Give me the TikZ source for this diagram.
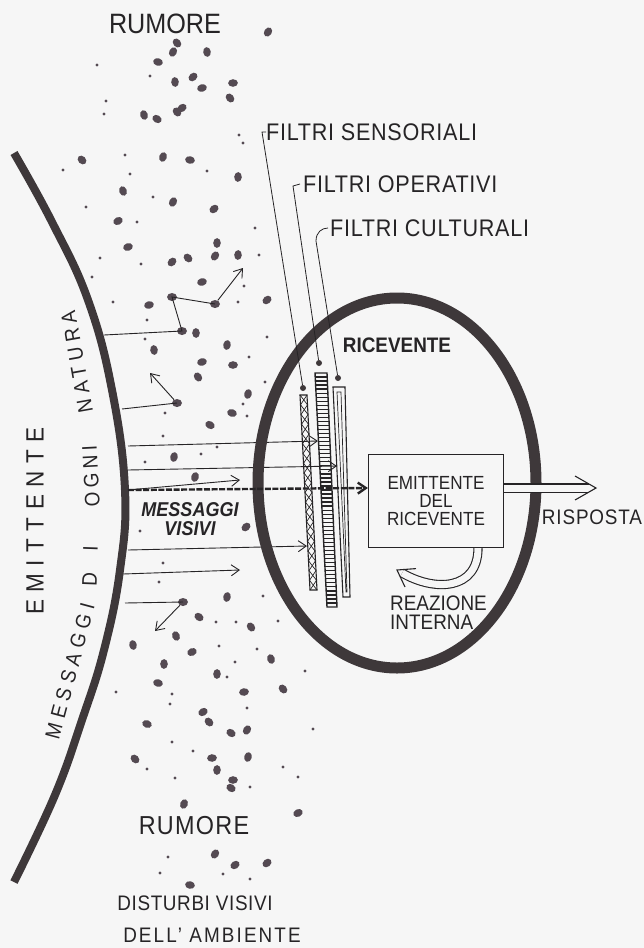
\documentclass[tikz,border=0pt]{standalone}
\usepackage{fontspec}
\setmainfont{Liberation Sans}[FakeStretch=0.9]
\usepackage{tikz}
\usetikzlibrary{positioning,arrows.meta,calc,shapes.geometric}
\definecolor{ink}{RGB}{38,36,38}
\definecolor{spot}{RGB}{84,74,82}
\definecolor{band}{RGB}{62,56,58}
\definecolor{paper}{RGB}{246,246,246}
\tikzset{
  hand/.style={text=ink, inner sep=0pt, font=\fontsize{20}{18}\selectfont},
  big/.style={hand, font=\fontsize{28}{28}\selectfont},
  arcw/.style={hand, font=\fontsize{21}{21}\selectfont\addfontfeature{LetterSpace=#1}},
  filt/.style={hand, anchor=west, font=\fontsize{24}{24}\selectfont\addfontfeature{LetterSpace=3}},
  spotn/.style={ellipse, fill=spot, minimum width=10pt, minimum height=8pt, inner sep=0pt},
  pin/.style={circle, fill=band, minimum size=6pt, inner sep=0pt},
  ray/.style={draw=ink, line width=0.9pt},
  msg/.style={ray, -{Straight Barb[length=8pt, width=11pt]}},
  mainmsg/.style={msg, line width=2.4pt, dash pattern=on 6pt off 1.6pt},
  hollow/.style={draw=ink, line width=1.1pt, double=paper, double distance=7pt},
  chev/.style={draw=ink, line width=1.1pt, line join=miter},
  ring/.style={draw=band, line width=11pt},
  strip/.style={draw=ink, line width=1.1pt},
}

\begin{document}
\begin{tikzpicture}[x=1pt, y=-1pt]
  \useasboundingbox[fill=paper] (0,0) rectangle (644,948);

  % --- rumore: noise spots ---
  \foreach \x/\y in {268/32, 177/43, 173/52, 207/52, 158/62, 175/82, 193/77, 202/88,
      233/83, 230/98, 177/112, 182/108, 144/115, 157/119, 163/157, 190/160, 82/160,
      238/177, 123/191, 173/202, 214/209, 118/221, 128/247, 217/243, 215/256, 238/255,
      172/262, 188/258, 202/282, 149/305, 267/300, 196/333, 227/345, 154/350, 202/362,
      233/365, 198/377, 248/394, 232/413, 210/425, 174/457, 195/477, 246/527, 227/597,
      199/617, 251/627, 176/636, 133/645, 192/652, 164/664, 271/659, 217/674, 158/683,
      244/692, 283/689, 203/712, 209/722, 231/733, 247/730, 147/724, 135/759, 212/758,
      248/757, 217/770, 233/780, 231/788, 184/804, 298/813, 215/854, 235/865, 267/863,
      190/885}
    \fill[spot, rotate around={\x*17:(\x,\y)}] (\x,\y) ellipse [x radius=4.9, y radius=3.8];
  \foreach \x/\y in {97/65, 150/76, 106/101, 104/114, 239/135, 243/143, 125/155, 63/170,
      130/174, 207/171, 153/197, 86/207, 137/222, 255/228, 100/258, 141/264, 259/255,
      244/286, 92/277, 113/302, 238/302, 147/320, 267/337, 145/339, 249/357, 265/382,
      243/404, 165/413, 247/416, 163/436, 217/447, 201/454, 145/462, 140/531, 163/563,
      159/582, 263/596, 216/622, 236/622, 278/621, 219/646, 257/649, 235/662, 227/677,
      305/671, 116/692, 172/694, 170/704, 247/708, 172/742, 193/751, 313/729, 147/769,
      175/778, 283/767, 298/777, 250/787, 168/857, 160/873, 223/874, 250/879}
    \fill[spot] (\x,\y) circle [radius=1.7];

  % --- messages leaving the emittente ---
  \coordinate (eA) at (104,335);
  \coordinate (eB) at (122,409);
  \coordinate (e1) at (128,446);
  \coordinate (e2) at (128,470);
  \coordinate (e3) at (128,490);
  \coordinate (e4) at (128,550);
  \coordinate (e5) at (123,574);
  \coordinate (e6) at (125,603);
  \coordinate (tA) at (243,268);
  \coordinate (tB) at (150,373);
  \coordinate (t1) at (318,441);
  \coordinate (t2) at (337,466);
  \coordinate (t3) at (240,480);
  \coordinate (t4) at (307,546);
  \coordinate (t5) at (240,570);
  \coordinate (t6) at (155,631);

  \node[spotn] (a1) at (182,331) {};
  \node[spotn] (a2) at (172,297) {};
  \node[spotn] (a3) at (215,304) {};
  \node[spotn] (b1) at (177,403) {};
  \node[spotn] (s6) at (183,602) {};

  \draw[ray] (eA) -- (a1.center) -- (a2.center) -- (a3.center);
  \draw[msg] (a3) -- (tA);
  \draw[ray] (eB) -- (b1.center);
  \draw[msg] (b1) -- (tB);
  \draw[msg] (e1) -- (t1);
  \draw[msg] (e2) -- (t2);
  \draw[msg] (e3) -- (t3);
  \draw[msg] (e4) -- (t4);
  \draw[msg] (e5) -- (t5);
  \draw[ray] (e6) -- (s6.center);
  \draw[msg] (s6) -- (t6);

  % --- emittente ---
  \draw[draw=band, line width=8pt] plot[smooth, tension=0.7] coordinates {(14,153) (52,222)
      (88,300) (112,390) (125,490) (120,570) (104,650) (82,720) (55,795) (14,882)};
  \node[arcw=26, rotate=75] (w1) at (70,671) {MESSAGGI};
  \node[arcw=100, rotate=88] (w2) at (90,566) {DI};
  \node[arcw=20, rotate=93] (w3) at (91,476) {OGNI};
  \node[arcw=26, rotate=100] (w4) at (77,362) {NATURA};
  \node[hand, rotate=90, font=\fontsize{25}{25}\selectfont\addfontfeature{LetterSpace=30}]
    (emit) at (35,521) {EMITTENTE};

  % --- ricevente ---
  \node[ring, ellipse, minimum width=278pt, minimum height=370pt] (ric) at (397,483) {};
  \node[hand, font=\bfseries\fontsize{21}{21}\selectfont] (ricl) at (397,345) {RICEVENTE};
  \node[draw=ink, line width=1.2pt, minimum width=135pt, minimum height=93pt, align=center,
        hand, font=\fontsize{19}{18}\selectfont] (emr) at (436,501) {EMITTENTE\\DEL\\RICEVENTE};

  % filters
  \draw[strip] (300,395) -- (310,590) -- (317,590) -- (307,395) -- cycle;
  \foreach \i in {0,...,19} {
    \draw[ink, line width=0.7pt] ({300+10*\i/20},{395+195*\i/20}) -- ({307+10*(\i+1)/20},{395+195*(\i+1)/20});
    \draw[ink, line width=0.7pt] ({307+10*\i/20},{395+195*\i/20}) -- ({300+10*(\i+1)/20},{395+195*(\i+1)/20});
  }
  \draw[strip, line width=1.4pt] (315,373) -- (327,607) -- (337,607) -- (327,373) -- cycle;
  \foreach \i in {1,...,57}
    \draw[ink, line width=1.3pt] ({315+12*\i/58},{373+234*\i/58}) -- ({327+10*\i/58},{373+234*\i/58});
  \draw[strip] (333,387) -- (343,597) -- (350,597) -- (345,387) -- cycle;
  \draw[ink, line width=0.7pt] (337,392) -- (346,592) -- (347,592) -- (341,392) -- cycle;

  \node[filt] (fs) at (266,132) {FILTRI SENSORIALI};
  \node[filt] (fo) at (303,184) {FILTRI OPERATIVI};
  \node[filt] (fc) at (330,228) {FILTRI CULTURALI};
  \node[pin] (ps) at (303,388) {};
  \node[pin] (po) at (319,363) {};
  \node[pin] (pc) at (338,378) {};
  \draw[ray, line width=0.8pt] (ps) -- ([xshift=-4pt]fs.west) -- (fs.west);
  \draw[ray, line width=0.8pt] (po) -- ([xshift=-10pt, yshift=-2pt]fo.west) -- ([xshift=-3pt]fo.west);
  \draw[ray, line width=0.8pt] (pc) -- ([xshift=-14pt, yshift=-13pt]fc.west)
    .. controls +(0,-9) and +(-6,0) .. ([xshift=-2pt]fc.west);

  % main message, answer and internal reaction
  \draw[mainmsg] (e3) -- ([yshift=13pt]emr.west);
  \coordinate (risp) at (596,488);
  \coordinate (rea) at (397,570);
  \draw[hollow, shorten >=7pt] ([yshift=13pt]emr.east) -- (risp);
  \draw[chev] (risp) ++(-21,-12) -- (risp) -- ++(-21,12);
  \draw[hollow, shorten >=6pt] ([xshift=42pt]emr.south) .. controls +(0,42) and +(38,22) .. (rea);
  \draw[chev] (rea) ++(19,-1.4) -- (rea) -- ++(8,17);

  % --- labels ---
  \node[big] (rum1) at (165,24) {RUMORE};
  \node[big, font=\fontsize{26}{26}\selectfont\addfontfeature{LetterSpace=5}] (rum2) at (194,826) {RUMORE};
  \node[hand, font=\bfseries\itshape\fontsize{20}{19}\selectfont, align=center] (mv) at (190,519) {MESSAGGI\\VISIVI};
  \node[hand, font=\fontsize{21}{21}\selectfont\addfontfeature{LetterSpace=4}] (risl) at (592,517) {RISPOSTA};
  \node[hand, align=left, anchor=north west, font=\fontsize{21}{19}\selectfont] (reaz) at (390,596) {REAZIONE\\INTERNA};
  \node[hand, font=\fontsize{21}{21}\selectfont\addfontfeature{LetterSpace=3}] (dist) at (195,903) {DISTURBI VISIVI};
  \node[hand, font=\fontsize{21}{21}\selectfont\addfontfeature{LetterSpace=10}] (amb) at (212,935) {DELL' AMBIENTE};
\end{tikzpicture}
\end{document}
